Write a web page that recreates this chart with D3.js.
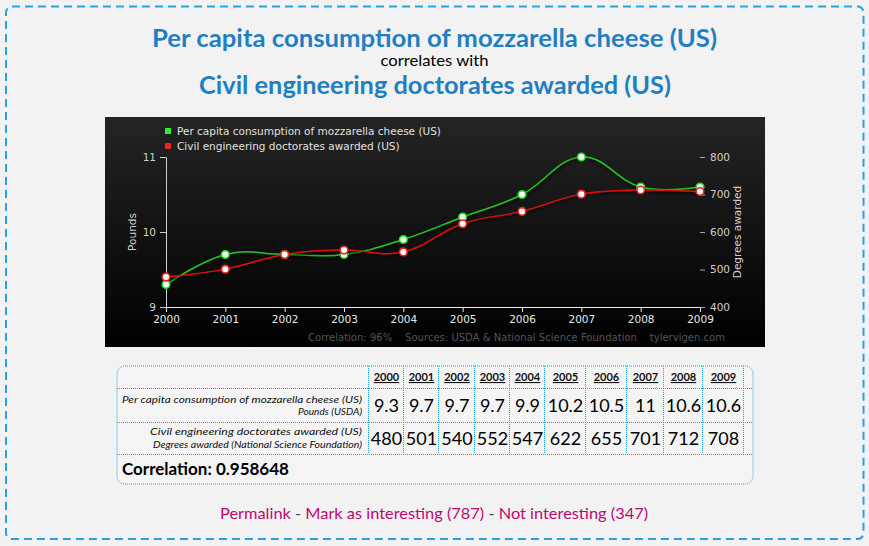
<!DOCTYPE html>
<html><head><meta charset="utf-8">
<script src="https://cdn.jsdelivr.net/npm/d3@7"></script>
<style>
html,body{margin:0;padding:0;background:#f2f2f2;}
svg{display:block;}
</style></head>
<body>
<script>
// ---- data ----
const years = [2000, 2001, 2002, 2003, 2004, 2005, 2006, 2007, 2008, 2009];
const cheese = [9.3, 9.7, 9.7, 9.7, 9.9, 10.2, 10.5, 11, 10.6, 10.6];
const doctorates = [480, 501, 540, 552, 547, 622, 655, 701, 712, 708];
const cheeseLabel = "Per capita consumption of mozzarella cheese (US)";
const doctorLabel = "Civil engineering doctorates awarded (US)";
const cheeseUnit = "Pounds (USDA)";
const doctorUnit = "Degrees awarded (National Science Foundation)";
const poundsTicks = [9, 10, 11];
const degreeTicks = [400, 500, 600, 700, 800];
const correlation = "0.958648";
const footerNote = "Correlation: 96%    Sources: USDA & National Science Foundation    tylervigen.com";

// ---- layout ----
const W = 869, H = 546;
const svg = d3.select("body").append("svg").attr("width", W).attr("height", H);
const defs = svg.append("defs");
const grad = defs.append("linearGradient").attr("id", "bg").attr("x1", 0).attr("y1", 0).attr("x2", 0).attr("y2", 1);
grad.append("stop").attr("offset", "0%").attr("stop-color", "#242424");
grad.append("stop").attr("offset", "100%").attr("stop-color", "#000000");
const f = defs.append("filter").attr("id", "sh").attr("x", "-10%").attr("y", "-20%").attr("width", "120%").attr("height", "140%");
f.append("feDropShadow").attr("dx", 1).attr("dy", 2).attr("stdDeviation", 1.5).attr("flood-color", "#000").attr("flood-opacity", 0.9);

svg.append("rect").attr("width", W).attr("height", H).attr("fill", "#f2f2f2");
svg.append("rect").attr("x", 6).attr("y", 6.5).attr("width", 857.5).attr("height", 532.5).attr("rx", 6)
  .attr("fill", "none").attr("stroke", "#27a0e4").attr("stroke-width", 2).attr("stroke-dasharray", "8,5");

// titles
const titleFont = "Lato, 'Open Sans', sans-serif";
svg.append("text").attr("x", 434.5).attr("y", 47).attr("text-anchor", "middle")
  .attr("font-family", titleFont).attr("font-weight", "bold").attr("font-size", 25).attr("fill", "#1f7fc2")
  .attr("textLength", 565).attr("lengthAdjust", "spacingAndGlyphs").text(cheeseLabel);
svg.append("text").attr("x", 434.5).attr("y", 66).attr("text-anchor", "middle")
  .attr("font-family", titleFont).attr("font-size", 15).attr("fill", "#000")
  .attr("textLength", 108).attr("lengthAdjust", "spacingAndGlyphs").text("correlates with");
svg.append("text").attr("x", 435).attr("y", 94).attr("text-anchor", "middle")
  .attr("font-family", titleFont).attr("font-weight", "bold").attr("font-size", 25).attr("fill", "#1f7fc2")
  .attr("textLength", 472).attr("lengthAdjust", "spacingAndGlyphs").text(doctorLabel);

// chart panel
svg.append("rect").attr("x", 105).attr("y", 117).attr("width", 660).attr("height", 230).attr("fill", "url(#bg)");

const chartFont = "'DejaVu Sans', Verdana, sans-serif";
const x = d3.scaleLinear().domain([2000, 2009]).range([166, 700]);
const yL = d3.scaleLinear().domain([9, 11]).range([307, 157]);
const yR = d3.scaleLinear().domain([400, 800]).range([307, 157]);

function styleAxis(g, col) {
  g.selectAll("text").attr("font-family", chartFont).attr("font-size", 10.5).attr("fill", col);
  g.selectAll("line").attr("stroke", col);
  g.selectAll("path").attr("stroke", col);
}
const gL = svg.append("g").attr("transform", "translate(166,0)")
  .call(d3.axisLeft(yL).tickValues(poundsTicks).tickFormat(d3.format("d")).tickSize(6).tickSizeOuter(0).tickPadding(4));
styleAxis(gL, "#cfcfcf");
const gB = svg.append("g").attr("transform", "translate(0,307)")
  .call(d3.axisBottom(x).tickValues(years).tickFormat(d3.format("d")).tickSize(5).tickSizeOuter(0).tickPadding(4));
styleAxis(gB, "#e8e8e8");
const gR = svg.append("g").attr("transform", "translate(700,0)")
  .call(d3.axisRight(yR).tickValues(degreeTicks).tickSize(5).tickPadding(5));
gR.select(".domain").remove();
styleAxis(gR, "#cfcfcf");
gR.selectAll("line").attr("stroke", "#aaa");

svg.append("text").attr("transform", "translate(136,232) rotate(-90)").attr("text-anchor", "middle")
  .attr("font-family", chartFont).attr("font-size", 10.5).attr("fill", "#cfcfcf").text("Pounds");
svg.append("text").attr("transform", "translate(741,232) rotate(-90)").attr("text-anchor", "middle")
  .attr("font-family", chartFont).attr("font-size", 10.5).attr("fill", "#cfcfcf").text("Degrees awarded");

// legend
const legend = [{label: cheeseLabel, col: "#33ee33"}, {label: doctorLabel, col: "#ee2222"}];
legend.forEach((d, i) => {
  svg.append("rect").attr("x", 165).attr("y", 128 + i * 15).attr("width", 6).attr("height", 6).attr("fill", d.col);
  svg.append("text").attr("x", 177).attr("y", 134.5 + i * 15).attr("font-family", chartFont)
    .attr("font-size", 10.5).attr("fill", "#e0e0e0").text(d.label);
});

// series
const series = [
  {vals: cheese, y: yL, line: "#22c422", ring: "#22dd22"},
  {vals: doctorates, y: yR, line: "#dd1111", ring: "#ee2222"}
];
series.forEach(s => {
  const pts = years.map((yr, i) => [x(yr), s.y(s.vals[i])]);
  svg.append("path").attr("d", d3.line().curve(d3.curveCardinal.tension(-0.2))(pts))
    .attr("fill", "none").attr("stroke", s.line).attr("stroke-width", 1.5).attr("filter", "url(#sh)");
  svg.append("g").selectAll("circle").data(pts).join("circle")
    .attr("cx", d => d[0]).attr("cy", d => d[1]).attr("r", 3.8)
    .attr("fill", "#fff").attr("stroke", s.ring).attr("stroke-width", 1.6);
});

svg.append("text").attr("x", 725).attr("y", 341).attr("text-anchor", "end").attr("xml:space", "preserve")
  .attr("font-family", chartFont).attr("font-size", 10).attr("fill", "#555")
  .attr("textLength", 417).text(footerNote);

// ---- table ----
const tblFont = "Lato, 'Open Sans', sans-serif";
const tx0 = 117, ty0 = 366, tx1 = 753, ty1 = 484;
const colEdges = [368, 403, 438, 474, 509, 544, 585, 626, 663, 702, 743];
const rowEdges = [388, 422, 454];
const dot = "#2a9ee0";
svg.append("rect").attr("x", tx0).attr("y", ty0).attr("width", tx1 - tx0).attr("height", ty1 - ty0).attr("rx", 8)
  .attr("fill", "#f4f4f4").attr("stroke", dot).attr("stroke-width", 1).attr("stroke-dasharray", "1,1");
colEdges.forEach(cx => svg.append("line").attr("x1", cx + 0.5).attr("x2", cx + 0.5).attr("y1", ty0).attr("y2", rowEdges[2])
  .attr("stroke", dot).attr("stroke-dasharray", "1,1"));
rowEdges.forEach(ry => svg.append("line").attr("x1", tx0).attr("x2", tx1).attr("y1", ry + 0.5).attr("y2", ry + 0.5)
  .attr("stroke", dot).attr("stroke-dasharray", "1,1"));

years.forEach((yr, i) => {
  const cx = (colEdges[i] + colEdges[i + 1]) / 2 + 1;
  svg.append("text").attr("x", cx).attr("y", 381).attr("text-anchor", "middle").attr("font-family", tblFont)
    .attr("font-weight", "bold").attr("font-size", 11).attr("fill", "#111").attr("text-decoration", "underline").text(yr);
  svg.append("text").attr("x", cx).attr("y", 412).attr("text-anchor", "middle").attr("font-family", tblFont)
    .attr("font-size", 18).attr("fill", "#000").text(cheese[i]);
  svg.append("text").attr("x", cx).attr("y", 445).attr("text-anchor", "middle").attr("font-family", tblFont)
    .attr("font-size", 18).attr("fill", "#000").text(doctorates[i]);
});
const lab = [[cheeseLabel, cheeseUnit, 402.5, 415, 240, 64], [doctorLabel, doctorUnit, 435, 447.5, 212, 209]];
lab.forEach(l => {
  svg.append("text").attr("x", 362).attr("y", l[2]).attr("text-anchor", "end").attr("font-family", tblFont)
    .attr("font-style", "italic").attr("font-size", 10).attr("fill", "#111")
    .attr("textLength", l[4]).attr("lengthAdjust", "spacingAndGlyphs").text(l[0]);
  svg.append("text").attr("x", 362).attr("y", l[3]).attr("text-anchor", "end").attr("font-family", tblFont)
    .attr("font-style", "italic").attr("font-size", 10).attr("fill", "#111")
    .attr("textLength", l[5]).attr("lengthAdjust", "spacingAndGlyphs").text(l[1]);
});
svg.append("text").attr("x", 122).attr("y", 475).attr("font-family", tblFont).attr("font-weight", "bold")
  .attr("font-size", 17).attr("fill", "#000").text("Correlation: " + correlation);

// ---- links ----
const links = svg.append("text").attr("x", 434).attr("y", 519).attr("text-anchor", "middle")
  .attr("font-family", tblFont).attr("font-size", 16).attr("textLength", 428).attr("lengthAdjust", "spacingAndGlyphs");
links.append("tspan").attr("fill", "#bb0a73").text("Permalink");
links.append("tspan").attr("fill", "#444").text(" - ");
links.append("tspan").attr("fill", "#bb0a73").text("Mark as interesting (787)");
links.append("tspan").attr("fill", "#444").text(" - ");
links.append("tspan").attr("fill", "#bb0a73").text("Not interesting (347)");
</script>
</body></html>
